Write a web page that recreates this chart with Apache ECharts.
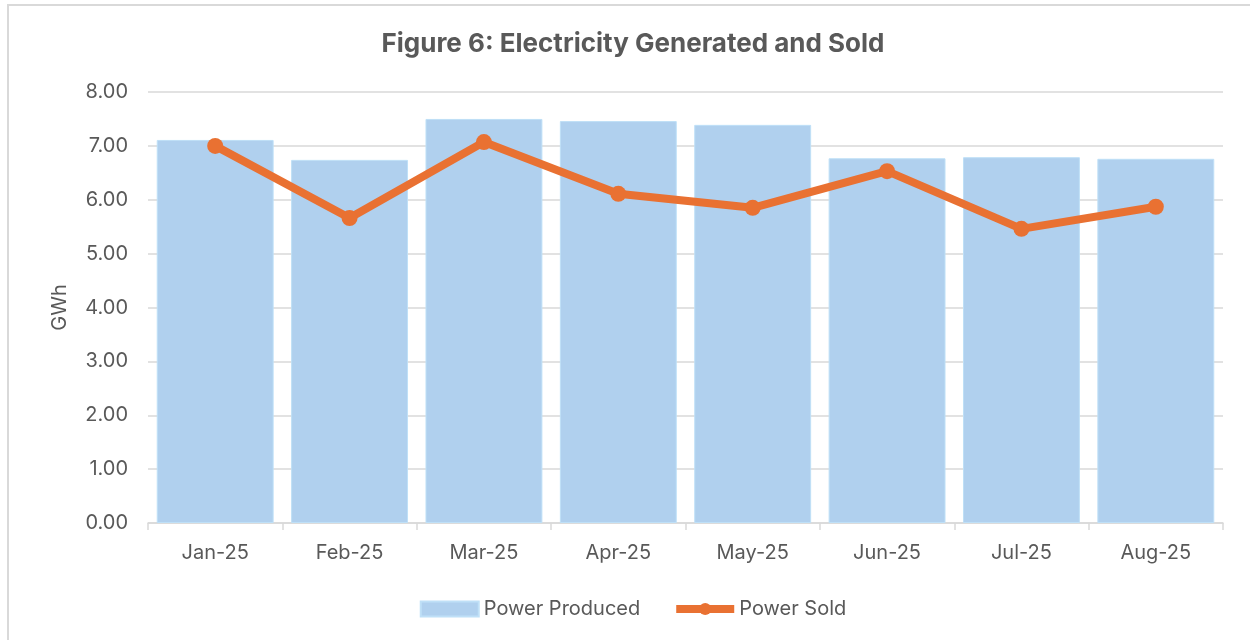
<!DOCTYPE html>
<html>
<head>
<meta charset="utf-8">
<script src="https://cdn.jsdelivr.net/npm/echarts@6/dist/echarts.min.js"></script>
<style>
  html, body { margin: 0; padding: 0; background: #fff; }
  #main { position: absolute; left: 7px; top: 4px; width: 1250px; height: 640px;
          border-left: 2px solid #d9d9d9; border-top: 2px solid #d9d9d9; box-sizing: border-box; }
</style>
</head>
<body>
<div id="main"></div>
<script>
var months = ["Jan-25", "Feb-25", "Mar-25", "Apr-25", "May-25", "Jun-25", "Jul-25", "Aug-25"];
var powerProduced = [7.11, 6.74, 7.50, 7.46, 7.39, 6.77, 6.79, 6.76];
var powerSold = [7.00, 5.66, 7.07, 6.11, 5.85, 6.53, 5.46, 5.87];

var myChart = echarts.init(document.getElementById("main"));
var textColor = "#595959";
var font = "Inter, sans-serif";
myChart.setOption({
  animation: false,
  title: {
    text: "Figure 6: Electricity Generated and Sold",
    left: "center",
    top: 20,
    textStyle: { color: textColor, fontSize: 26, fontWeight: "bold", fontFamily: font },
  },
  legend: {
    bottom: 20,
    left: "center",
    itemGap: 32,
    textStyle: { color: textColor, fontSize: 20, fontFamily: font },
    itemWidth: 58,
    itemHeight: 15,
    data: [
      { name: "Power Produced", icon: "rect", itemStyle: { color: "#b0d0ee" } },
      { name: "Power Sold", lineStyle: { width: 8 } },
    ],
  },
  grid: { left: 139, right: 34, top: 86, bottom: 121 },
  xAxis: {
    type: "category",
    data: months,
    boundaryGap: true,
    axisLine: { lineStyle: { color: "#d9d9d9", width: 1.5 } },
    axisTick: { show: true, length: 7, lineStyle: { color: "#d9d9d9", width: 1.5 } },
    axisLabel: { color: textColor, fontSize: 20, margin: 20, fontFamily: font },
  },
  yAxis: {
    type: "value",
    min: 0,
    max: 8,
    interval: 1,
    name: "GWh",
    nameLocation: "middle",
    nameGap: 78,
    nameTextStyle: { color: textColor, fontSize: 20, fontFamily: font },
    axisLine: { show: false },
    axisTick: { show: false },
    splitLine: { lineStyle: { color: "#d9d9d9", width: 1.5 } },
    axisLabel: {
      color: textColor, fontSize: 20, margin: 20, fontFamily: font,
      formatter: function (v) { return v.toFixed(2); },
    },
  },
  series: [
    {
      name: "Power Produced",
      type: "bar",
      barCategoryGap: "13%",
      itemStyle: { color: "#b0d0ee", borderColor: "#bfe0f7", borderWidth: 1 },
      data: powerProduced,
    },
    {
      name: "Power Sold",
      type: "line",
      symbol: "circle",
      symbolSize: 16,
      lineStyle: { color: "#e97132", width: 8 },
      itemStyle: { color: "#e97132" },
      data: powerSold,
    },
  ],
});
</script>
</body>
</html>
